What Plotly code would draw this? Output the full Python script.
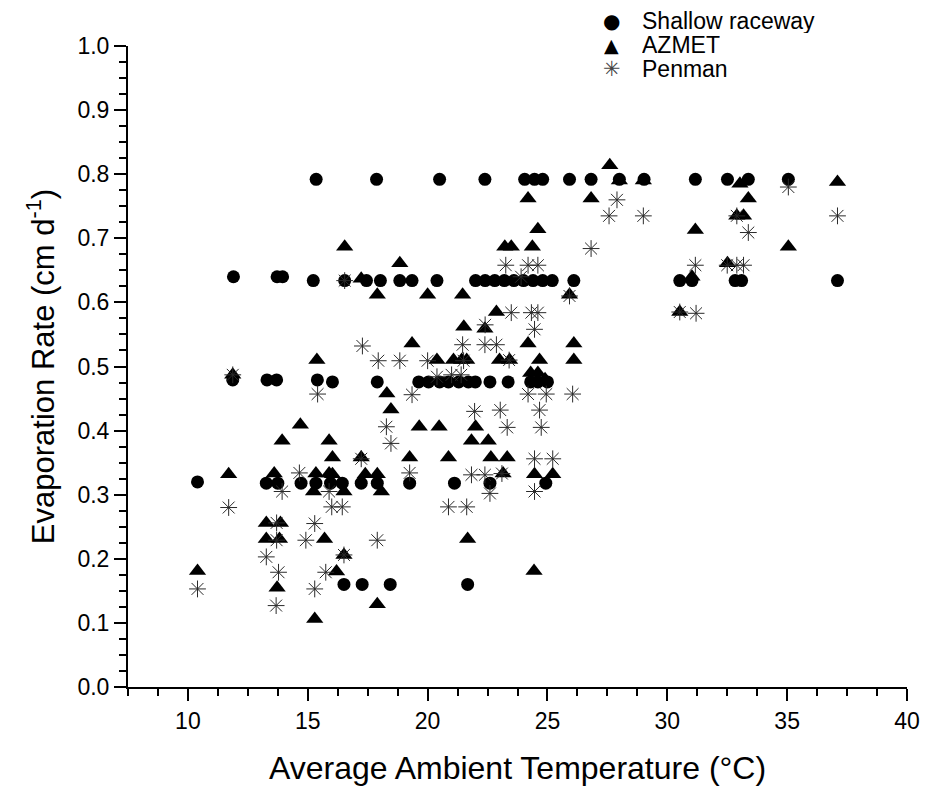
import plotly.graph_objects as go

# Shallow raceway (circles)
sr_x = [15.35, 17.87, 20.5, 22.39, 24.05, 24.46, 24.8, 25.92, 26.82, 28.0, 29.03, 31.17, 32.51, 33.38, 35.05,
        11.9, 13.72, 13.95, 15.23, 16.54, 17.45, 18.03, 18.84, 19.35, 20.39, 22.0, 22.4, 22.8, 23.2, 23.6, 24.0,
        24.4, 24.8, 25.2, 26.1, 30.52, 31.03, 32.83, 33.1, 37.1,
        11.87, 13.3, 13.7, 15.4, 16.03, 17.9, 19.63, 20.04, 20.5, 20.87, 21.3, 21.7, 21.99, 22.6, 23.36, 24.3, 24.6, 25.0,
        10.4, 13.27, 13.75, 14.72, 15.34, 15.95, 16.44, 17.23, 17.9, 19.25, 21.12, 22.6, 24.93,
        16.51, 17.27, 18.44, 21.67]
sr_y = [0.792] * 15 + \
       [0.640, 0.640, 0.640] + [0.634] * 22 + \
       [0.479, 0.479, 0.479, 0.479, 0.476, 0.476] + [0.476] * 12 + \
       [0.320] + [0.318] * 12 + \
       [0.160] * 4

# AZMET (triangles)
az_x = [10.4, 11.7, 11.87, 13.27, 13.86, 13.27, 13.82, 13.6, 13.72, 13.93, 14.69, 15.24, 15.29, 15.34, 15.38,
        15.7, 15.89, 15.89, 16.03, 16.03, 16.2, 16.51, 16.51, 16.54, 17.23, 17.23, 17.4, 17.9, 17.9, 17.9,
        18.07, 18.3, 18.47, 18.84, 19.25, 19.35, 19.65, 20.0, 20.39, 20.48, 20.87, 21.08, 21.42, 21.63, 21.46,
        21.51, 21.67, 21.83, 22.0, 22.53, 22.39, 22.64, 22.87, 23.0, 23.42, 23.15, 23.22, 23.49, 23.32, 24.19,
        24.19, 24.37, 24.6, 24.67, 24.3, 24.6, 24.9, 24.46, 25.22, 24.44, 25.92, 26.1, 26.1, 26.82, 27.6,
        28.0, 29.0, 30.52, 31.03, 31.17, 32.51, 32.9, 33.18, 33.03, 33.38, 35.05, 37.1]
az_y = [0.181, 0.332, 0.487, 0.256, 0.256, 0.231, 0.231, 0.333, 0.155, 0.384, 0.409, 0.305, 0.106, 0.333, 0.510,
        0.231, 0.333, 0.384, 0.358, 0.332, 0.180, 0.305, 0.206, 0.687, 0.637, 0.358, 0.332, 0.332, 0.612, 0.129,
        0.305, 0.458, 0.433, 0.661, 0.358, 0.536, 0.406, 0.612, 0.510, 0.406, 0.358, 0.510, 0.510, 0.510, 0.612,
        0.562, 0.231, 0.384, 0.406, 0.384, 0.559, 0.358, 0.585, 0.510, 0.510, 0.333, 0.687, 0.687, 0.358, 0.762,
        0.536, 0.687, 0.714, 0.510, 0.490, 0.490, 0.480, 0.332, 0.332, 0.181, 0.612, 0.536, 0.510, 0.762, 0.814,
        0.790, 0.790, 0.585, 0.640, 0.713, 0.661, 0.735, 0.735, 0.785, 0.762, 0.687, 0.788]

# Penman (asterisks)
pm_x = [10.4, 11.7, 11.87, 13.27, 13.68, 13.78, 13.7, 13.7, 13.93, 14.65, 14.92, 15.29, 15.29, 15.41, 15.75,
        15.89, 16.0, 16.44, 16.54, 16.51, 17.23, 17.28, 17.9, 17.94, 18.28, 18.47, 18.84, 19.25, 19.35, 20.0,
        20.39, 20.87, 21.0, 21.4, 21.46, 21.63, 21.83, 21.96, 21.5, 22.39, 22.39, 22.87, 22.4, 22.6, 23.03,
        23.1, 23.26, 23.32, 23.49, 23.4, 24.19, 24.6, 24.33, 24.6, 24.46, 24.19, 24.95, 24.67, 24.74, 24.46,
        25.22, 24.46, 25.92, 26.05, 26.82, 27.57, 27.9, 29.0, 30.52, 31.2, 31.17, 32.5, 32.9, 33.18, 32.9,
        33.38, 35.05, 37.1, 23.9]
pm_y = [0.153, 0.280, 0.487, 0.203, 0.127, 0.179, 0.256, 0.229, 0.305, 0.334, 0.229, 0.255, 0.153, 0.457, 0.179,
        0.305, 0.281, 0.281, 0.634, 0.206, 0.356, 0.532, 0.229, 0.509, 0.406, 0.380, 0.509, 0.334, 0.456, 0.509,
        0.484, 0.281, 0.487, 0.487, 0.534, 0.281, 0.331, 0.430, 0.509, 0.331, 0.534, 0.534, 0.565, 0.302, 0.432,
        0.333, 0.658, 0.405, 0.584, 0.510, 0.658, 0.658, 0.584, 0.584, 0.558, 0.457, 0.457, 0.432, 0.405, 0.356,
        0.356, 0.305, 0.610, 0.457, 0.684, 0.735, 0.760, 0.735, 0.585, 0.583, 0.658, 0.658, 0.658, 0.658, 0.735,
        0.709, 0.780, 0.735, 0.640]

series_names = ["Shallow raceway", "AZMET", "Penman"]
legend_glyphs = ["\u25CF", "\u25B2", "\u2733"]

FONT = "Liberation Sans, Arial, sans-serif"

fig = go.Figure()
fig.add_trace(go.Scatter(x=sr_x, y=sr_y, mode="markers", name=series_names[0],
                         marker=dict(symbol="circle", size=13, color="black", line=dict(width=0))))
fig.add_trace(go.Scatter(x=az_x, y=az_y, mode="markers", name=series_names[1],
                         marker=dict(symbol="triangle-up", size=15, color="black", line=dict(width=0))))
fig.add_trace(go.Scatter(x=pm_x, y=pm_y, mode="markers", name=series_names[2],
                         marker=dict(symbol="asterisk-open", size=14, color="#2a2a2a",
                                     line=dict(width=1, color="#2a2a2a"))))

axis_common = dict(showgrid=False, zeroline=False, showline=True, linecolor="black", linewidth=2,
                   ticks="outside", ticklen=12, tickwidth=2, tickcolor="black",
                   tickfont=dict(family=FONT, size=23, color="black"), mirror=False)

fig.update_xaxes(range=[7.5, 40], tickvals=[10, 15, 20, 25, 30, 35, 40],
                 minor=dict(dtick=1.25, tick0=7.5, ticks="outside", ticklen=7, tickwidth=2, tickcolor="black"),
                 title=dict(text="Average Ambient Temperature (°C)", font=dict(family=FONT, size=32, color="black"),
                            standoff=24),
                 **axis_common)
fig.update_yaxes(range=[0, 1.0], dtick=0.1, tickformat=".1f",
                 minor=dict(dtick=0.025, ticks="outside", ticklen=7, tickwidth=2, tickcolor="black"),
                 title=dict(text="Evaporation Rate (cm d<sup>-1</sup>)", font=dict(family=FONT, size=31, color="black"),
                            standoff=14),
                 **axis_common)

# legend drawn as text annotations (to match the tight row spacing of the original)
legend_rows_y = [1.039, 1.0016, 0.9641]
glyph_sizes = [20, 19, 21]
glyph_colors = ["black", "black", "#444444"]
for name, glyph, yy, gs, gc in zip(series_names, legend_glyphs, legend_rows_y, glyph_sizes, glyph_colors):
    fig.add_annotation(xref="paper", yref="paper", x=0.6213, y=yy, text=glyph, showarrow=False,
                       xanchor="center", yanchor="middle", height=22,
                       font=dict(family="DejaVu Sans", size=gs, color=gc))
    fig.add_annotation(xref="paper", yref="paper", x=0.657, y=yy, text=name, showarrow=False,
                       xanchor="left", yanchor="middle", height=24,
                       font=dict(family=FONT, size=23, color="black"))

fig.update_layout(width=930, height=790, plot_bgcolor="white", paper_bgcolor="white",
                  margin=dict(l=120, r=31, t=38, b=111, autoexpand=False),
                  showlegend=False)

fig.write_html("out.html")
